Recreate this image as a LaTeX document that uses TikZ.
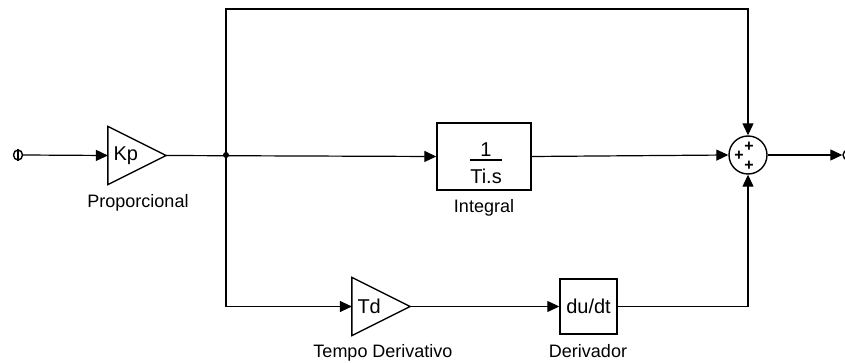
\documentclass[tikz,border=0pt]{standalone}
\usepackage{fontspec}
\setmainfont{Liberation Sans}
\usetikzlibrary{arrows.meta,shapes.geometric}

\begin{document}
\begin{tikzpicture}[x=1pt,y=-1pt,>={Triangle[length=12pt,width=11pt]},line width=1.2pt,
  every node/.style={inner sep=0pt,font=\fontsize{18}{20}\selectfont},
  gain/.style={minimum width=57pt,minimum height=57pt,text width=47pt,align=left,font=\fontsize{20}{22}\selectfont},
  blk/.style={draw,line width=1.4pt,font=\fontsize{20}{22}\selectfont},
  lbl/.style={anchor=base},
  sinal/.style={font=\bfseries\fontsize{16}{16}\selectfont}]
\useasboundingbox (0,0) rectangle (845,363);
% portas
\node[draw,ellipse,minimum width=9pt,minimum height=10pt,line width=1.4pt] (in) at (18,155){};
\draw[line width=1.4pt] (in.north)--(in.south);
\node[draw,circle,minimum size=10pt,line width=1.4pt] (out) at (848,155){};
% ganho proporcional
\node[gain] (kp) at (137,155.5){Kp};
\draw[line width=1.4pt] (kp.north west)--(kp.east)--(kp.south west)--cycle;
\node[lbl] (kplbl) at (138,208){Proporcional};
% integral
\node[blk,minimum width=94pt,minimum height=67pt] (int) at (484,156.5){};
\node[lbl,font=\fontsize{20}{22}\selectfont] (num) at (486,157){1};
\draw[line width=1.4pt] (470,160)--(502,160);
\node[lbl,font=\fontsize{20}{22}\selectfont] (den) at (486,184){Ti.s};
\node[lbl] (intlbl) at (484,213){Integral};
% ramo derivativo
\node[gain] (td) at (381,306.5){Td};
\draw[line width=1.4pt] (td.north west)--(td.east)--(td.south west)--cycle;
\node[lbl] (tdlbl) at (383,357){Tempo Derivativo};
\node[blk,minimum width=57pt,minimum height=55pt] (der) at (588.5,306.5){du/dt};
\node[lbl] (derlbl) at (588,357){Derivador};
% somador
\node[draw,circle,minimum size=38pt,line width=1.4pt] (sum) at (748,155){};
\node[sinal] (p1) at (749,147){+};
\node[sinal] (p2) at (739,156){+};
\node[sinal] (p3) at (749,166){+};
% ligacoes
\coordinate (j) at (226,155);
\coordinate (topo) at (226,9);
\fill (j) circle (3pt);
\draw[->] (in.east)--(kp.west);
\draw[->] (kp.east)--(int.west);
\draw[->] (j)--(topo)-|(sum.north);
\draw[->] (int.east)--(sum.west);
\draw[->] (j)|-(td.west);
\draw[->] (td.east)--(der.west);
\draw[->] (der.east)-|(sum.south);
\draw[->] (sum.east)--(out.west);
\end{tikzpicture}
\end{document}
